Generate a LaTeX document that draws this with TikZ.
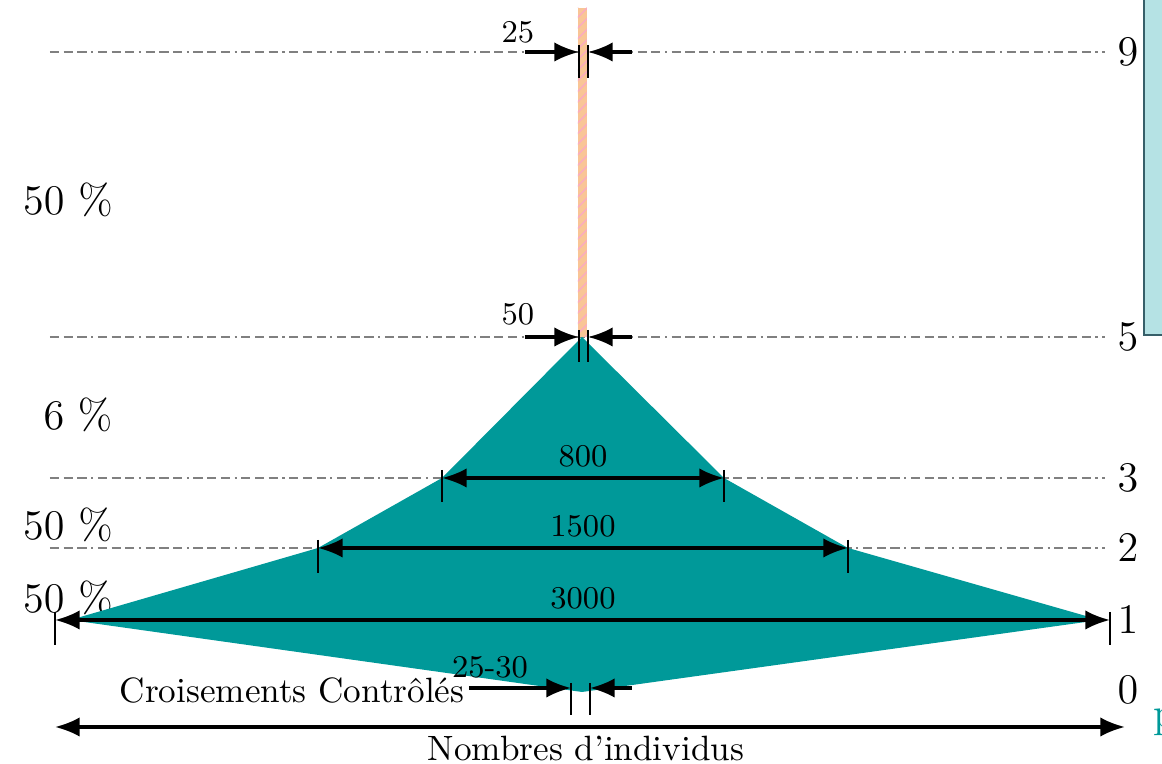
\documentclass[tikz,border=0pt]{standalone}
\usepackage{amsmath}
\usepackage[dvipsnames]{xcolor}
\usetikzlibrary{arrows.meta}
\usetikzlibrary{patterns}

\definecolor{pyrteal}{RGB}{0,153,153}
\definecolor{barorange}{RGB}{249,197,150}
\definecolor{boxblue}{RGB}{181,226,228}
\definecolor{boxedge}{RGB}{55,95,105}

\tikzset{
  niveau/.style={gray, line width=0.6pt, dash pattern=on 2.6pt off 1.3pt on 2.6pt off 1.3pt on 2.6pt off 1.3pt on 0.6pt off 1.3pt},
  cote/.style={line width=0.9pt, -{Latex[length=7pt,width=5.5pt]}},
  cotes/.style={line width=0.9pt, {Latex[length=7pt,width=5.5pt]}-{Latex[length=7pt,width=5.5pt]}},
  repere/.style={line width=0.8pt},
  val/.style={font=\fontsize{9}{10}\selectfont, inner sep=0pt},
  grand/.style={font=\fontsize{12}{14}\selectfont, inner sep=0pt},
  texte/.style={font=\fontsize{10}{12}\selectfont, inner sep=0pt}
}

\begin{document}
\begin{tikzpicture}[x=0.01cm,y=-0.01cm]
\useasboundingbox (0,0) rectangle (1162,764);
\clip (0,0) rectangle (1162,764);

% niveaux
\foreach \n/\y in {9/52,5/337,3/478,2/548,1/620,0/690} {
  \coordinate (g\n) at (50,\y);
  \coordinate (d\n) at (1105,\y);
  \node[grand] (n\n) at (1128,\y) {$\n$};
}
\foreach \n in {9,5,3,2} {
  \draw[niveau] (g\n)--(d\n);
}

% pourcentages
\node[grand] (p95) at (68,200) {$50~\%$};
\node[grand] (p53) at (78,415) {$6~\%$};
\node[grand] (p32) at (68,525) {$50~\%$};
\node[grand] (p21) at (68,598) {$50~\%$};

% cadre a droite
\draw[boxedge, fill=boxblue, line width=0.8pt] (1144,-5) rectangle (1180,335);
\node[grand, text=pyrteal, anchor=west] (pp) at (1153,722) {p};

% tige
\fill[barorange] (578,8) rectangle (587,337);
\fill[pattern=north east lines, pattern color=Lavender!40!barorange] (578,8) rectangle (587,337);

% pyramide
\fill[pyrteal] (582,337)--(442,478)--(318,548)--(70,620)--(582,692)--(1100,620)--(848,548)--(724,478)--cycle;

% 25
\coordinate (a9l) at (579,52);
\coordinate (a9r) at (588,52);
\draw[repere] (579,45)--(579,78);
\draw[repere] (588,45)--(588,78);
\draw[cote] (525,52)--(a9l);
\draw[cote] (632,52)--(a9r);
\node[val] (v25) at (518,32) {25};

% 50
\coordinate (a5l) at (579,337);
\coordinate (a5r) at (588,337);
\draw[repere] (579,330)--(579,362);
\draw[repere] (588,330)--(588,362);
\draw[cote] (525,337)--(a5l);
\draw[cote] (632,337)--(a5r);
\node[val] (v50) at (518,314) {50};

% 800
\coordinate (a3l) at (442,478);
\coordinate (a3r) at (724,478);
\draw[repere] (442,470)--(442,502);
\draw[repere] (724,470)--(724,502);
\draw[cotes] (a3l)--(a3r);
\node[val] (v800) at (583,456) {800};

% 1500
\coordinate (a2l) at (318,548);
\coordinate (a2r) at (848,548);
\draw[repere] (318,540)--(318,573);
\draw[repere] (848,540)--(848,573);
\draw[cotes] (a2l)--(a2r);
\node[val] (v1500) at (583,526) {1500};

% 3000
\coordinate (a1l) at (55,620);
\coordinate (a1r) at (1110,620);
\draw[repere] (55,612)--(55,645);
\draw[repere] (1110,612)--(1110,645);
\draw[cotes] (a1l)--(a1r);
\node[val] (v3000) at (583,598) {3000};

% 25-30
\node[texte, anchor=east] (croise) at (465,690) {Croisements Contr\^ol\'es};
\coordinate (a0l) at (571,688);
\coordinate (a0r) at (590,688);
\draw[repere] (571,683)--(571,715);
\draw[repere] (590,683)--(590,715);
\draw[cote] (croise.east)++(4,-2) -- (a0l);
\draw[cote] (632,688)--(a0r);
\node[val] (v2530) at (490,667) {25-30};

% axe
\coordinate (ax1) at (55,727);
\coordinate (ax2) at (1125,727);
\draw[cotes] (ax1)--(ax2);
\node[texte] (axe) at (586,748) {Nombres d'individus};
\end{tikzpicture}
\end{document}
